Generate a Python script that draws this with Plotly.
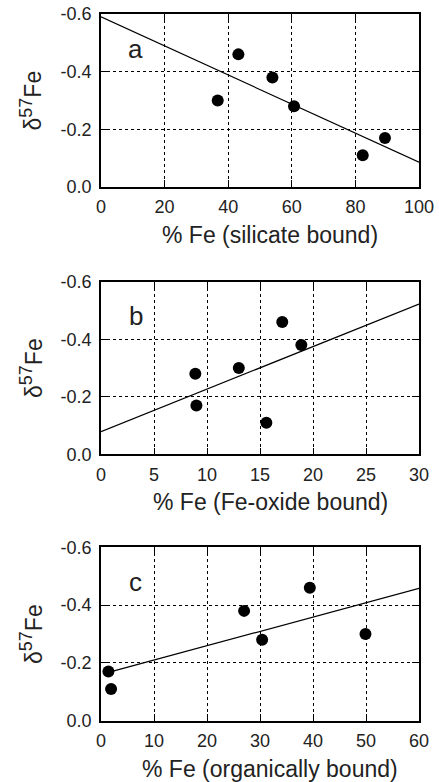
import plotly.graph_objects as go

# ---- data ----
d57_ticks = [0.0, -0.2, -0.4, -0.6]
d57_ticklabels = ["0.0", "-0.2", "-0.4", "-0.6"]

silicate_pct = [36.7, 43.2, 53.9, 60.7, 82.3, 89.3]
silicate_d57 = [-0.30, -0.46, -0.38, -0.28, -0.11, -0.17]
silicate_fit_x = [0, 100]
silicate_fit_y = [-0.59, -0.086]
silicate_ticks = [0, 20, 40, 60, 80, 100]

oxide_pct = [8.9, 9.0, 13.0, 15.6, 17.1, 18.9]
oxide_d57 = [-0.28, -0.17, -0.30, -0.11, -0.46, -0.38]
oxide_fit_x = [0, 30]
oxide_fit_y = [-0.079, -0.522]
oxide_ticks = [0, 5, 10, 15, 20, 25, 30]

organic_pct = [1.4, 1.9, 27.0, 30.4, 39.4, 49.9]
organic_d57 = [-0.17, -0.11, -0.38, -0.28, -0.46, -0.30]
organic_fit_x = [1.4, 60]
organic_fit_y = [-0.167, -0.458]
organic_ticks = [0, 10, 20, 30, 40, 50, 60]

panels = [
    ("a", silicate_pct, silicate_d57, silicate_fit_x, silicate_fit_y, silicate_ticks, [0, 100], "% Fe (silicate bound)"),
    ("b", oxide_pct, oxide_d57, oxide_fit_x, oxide_fit_y, oxide_ticks, [0, 30], "% Fe (Fe-oxide bound)"),
    ("c", organic_pct, organic_d57, organic_fit_x, organic_fit_y, organic_ticks, [0, 60], "% Fe (organically bound)"),
]

# the page body margin is removed via post_script, so the figure fills the window
W, H = 439, 782
FONT = "Liberation Sans, Arial, Helvetica, sans-serif"
# plot-area pixel boxes in window coordinates (top, bottom)
boxes = [(14, 187), (281.7, 454.3), (547.3, 720.7)]
x_left, x_right = 101, 419


def px_x(p):
    return p / W


def px_y(p):
    return 1 - p / H


fig = go.Figure()
annotations = []
layout = {}
for i, (letter, xs, ys, fx, fy, xt, xr, xtitle) in enumerate(panels):
    n = "" if i == 0 else str(i + 1)
    xa, ya = "x" + n, "y" + n
    fig.add_trace(go.Scatter(x=fx, y=fy, mode="lines", line=dict(color="black", width=1.2),
                             xaxis=xa, yaxis=ya, showlegend=False, hoverinfo="skip"))
    fig.add_trace(go.Scatter(x=xs, y=ys, mode="markers", marker=dict(color="black", size=12),
                             xaxis=xa, yaxis=ya, showlegend=False))
    top, bot = boxes[i]
    common = dict(showline=True, linecolor="black", linewidth=1.5, mirror="ticks",
                  ticks="inside", ticklen=7, tickwidth=1.2, tickcolor="black",
                  showgrid=True, gridcolor="black", griddash="dot", gridwidth=1,
                  zeroline=False, automargin=False, ticklabeloverflow="allow",
                  tickfont=dict(family=FONT, size=18, color="#222222"))
    layout["xaxis" + n] = dict(common, domain=[px_x(x_left), px_x(x_right)], range=xr,
                               tickvals=xt, anchor=ya, ticklabelstandoff=3)
    layout["yaxis" + n] = dict(common, domain=[px_y(bot), px_y(top)], range=[0, -0.6],
                               tickvals=d57_ticks, ticktext=d57_ticklabels, anchor=xa,
                               ticklabelstandoff=4)
    # panel letter
    annotations.append(dict(text=letter, xref=xa + " domain", yref=ya + " domain",
                            x=0.11, y=0.80, showarrow=False, xanchor="center", yanchor="middle",
                            font=dict(family=FONT, size=26, color="#222222")))
    # x title
    annotations.append(dict(text=xtitle, xref="paper", yref="paper",
                            x=px_x(270), y=px_y(bot + 48), showarrow=False,
                            xanchor="center", yanchor="middle",
                            font=dict(family=FONT, size=23, color="#222222")))
    # y title
    annotations.append(dict(text="δ<sup><span style='font-size:18px'>57</span></sup>Fe",
                            xref="paper", yref="paper",
                            x=px_x(31), y=px_y((top + bot) / 2), showarrow=False,
                            textangle=-90, xanchor="center", yanchor="middle",
                            font=dict(family=FONT, size=23, color="#222222")))

fig.update_layout(width=W, height=H, margin=dict(l=0, r=0, t=0, b=0),
                  paper_bgcolor="white", plot_bgcolor="white",
                  annotations=annotations, showlegend=False, **layout)
fig.write_html("out.html", config={"displayModeBar": False},
               post_script="document.body.style.margin='0px';document.body.style.overflow='hidden';")
